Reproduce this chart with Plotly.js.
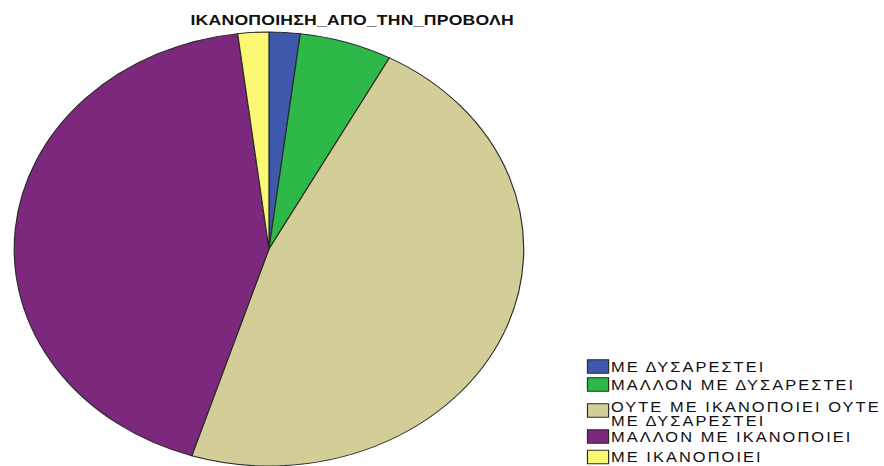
<!DOCTYPE html>
<html>
<head>
<meta charset="utf-8">
<script src="https://cdn.plot.ly/plotly-3.0.1.min.js"></script>
<style>
  html, body { margin: 0; padding: 0; overflow: hidden; background: #ffffff; }
  /* The chart is laid out narrower and then stretched to the 884px frame */
  #chart { width: 753px; height: 466px; transform: scaleX(1.174); transform-origin: 0 0; }
  #chart .legendtext { letter-spacing: 1.75px; }
  #chart .gtitle { letter-spacing: 0.2px; }
</style>
</head>
<body>
<div id="chart"></div>
<script>
// Responses to ΙΚΑΝΟΠΟΙΗΣΗ_ΑΠΟ_ΤΗΝ_ΠΡΟΒΟΛΗ (counts)
const categories = [
  'ΜΕ ΔΥΣΑΡΕΣΤΕΙ',
  'ΜΑΛΛΟΝ ΜΕ ΔΥΣΑΡΕΣΤΕΙ',
  'ΟΥΤΕ ΜΕ ΙΚΑΝΟΠΟΙΕΙ ΟΥΤΕ<br>ΜΕ ΔΥΣΑΡΕΣΤΕΙ',
  'ΜΑΛΛΟΝ ΜΕ ΙΚΑΝΟΠΟΙΕΙ',
  'ΜΕ ΙΚΑΝΟΠΟΙΕΙ'
];
const counts = [1, 3, 24, 22, 1];
const sliceColors = ['#3E58AC', '#2EB848', '#D3CE97', '#7C287D', '#FBF873'];
const chartTitle = 'ΙΚΑΝΟΠΟΙΗΣΗ_ΑΠΟ_ΤΗΝ_ΠΡΟΒΟΛΗ';

// Legend rows: vertical centre of each swatch, in page pixels
const legendRowY = [366.5, 384.5, 410.5, 436.5, 457];

const W = 753, H = 466;
const cx = 229.1, r = 217;

const trace = {
  type: 'pie',
  labels: categories,
  values: counts,
  sort: false,
  direction: 'clockwise',
  rotation: 0,
  textinfo: 'none',
  hoverinfo: 'label+value+percent',
  marker: { colors: sliceColors, line: { color: '#2b2b2b', width: 1 } },
  domain: { x: [(cx - r) / W, (cx + r) / W], y: [0, (2 * r) / H] }
};

const layout = {
  width: W,
  height: H,
  margin: { l: 0, r: 0, t: 0, b: 0 },
  paper_bgcolor: '#ffffff',
  font: { family: '"Liberation Sans", Arial, sans-serif', color: '#111111' },
  title: {
    text: '<b>' + chartTitle + '</b>',
    font: { family: '"Liberation Sans", Arial, sans-serif', size: 15, color: '#111111' },
    x: 300 / W, xanchor: 'center', xref: 'paper',
    y: 1 - 20 / H, yanchor: 'middle', yref: 'container'
  },
  showlegend: true,
  legend: {
    x: 480.4 / W, xanchor: 'left',
    y: 0, yanchor: 'bottom',
    font: { family: '"Liberation Sans", Arial, sans-serif', size: 14, color: '#111111' },
    bgcolor: 'rgba(0,0,0,0)',
    tracegroupgap: 0
  }
};

function parseTranslate(s) {
  const m = /translate\(\s*([-\d.e]+)[ ,]+([-\d.e]+)\s*\)/.exec(s || '');
  return m ? [parseFloat(m[1]), parseFloat(m[2])] : [0, 0];
}

Plotly.newPlot('chart', [trace], layout, { displayModeBar: false }).then(function (gd) {
  // Let the letter-spaced legend labels run past the measured legend width
  gd.querySelectorAll('.legend .scrollbox, .legend').forEach(function (el) {
    el.removeAttribute('clip-path');
  });
  const items = gd.querySelectorAll('.legend .traces');
  items.forEach(function (item, i) {
    // Wider swatches sitting close to their labels
    item.querySelectorAll('.legendpoints').forEach(function (g) {
      g.setAttribute('transform', 'translate(9,0)');
      g.querySelectorAll('path').forEach(function (p) {
        p.setAttribute('d', 'M9,6.75H-9V-6.75H9Z');
      });
    });
    // Tighter line spacing for wrapped labels, block kept beside the swatch
    const lines = item.querySelectorAll('.legendtext tspan.line');
    if (lines.length > 1) {
      lines.forEach(function (t, k) { if (k > 0) t.setAttribute('dy', '14'); });
      item.querySelector('.legendtext').setAttribute('transform', 'translate(0,5)');
    }
    // Compact row spacing
    const sw = item.querySelector('.legendpoints path');
    if (sw && i < legendRowY.length) {
      const b = sw.getBoundingClientRect();
      const centre = b.top + b.height / 2;
      const t = parseTranslate(item.getAttribute('transform'));
      item.setAttribute('transform',
        'translate(' + t[0] + ',' + (t[1] + legendRowY[i] - centre) + ')');
    }
  });
});
</script>
</body>
</html>
